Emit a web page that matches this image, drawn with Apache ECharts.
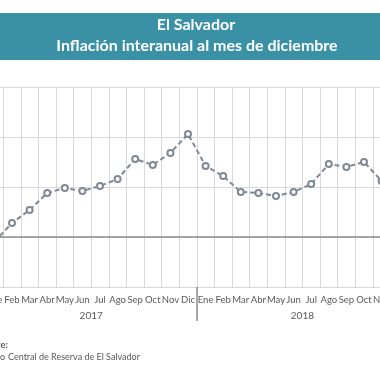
<!DOCTYPE html>
<html><head><meta charset="utf-8">
<script src="https://cdn.jsdelivr.net/npm/echarts@6/dist/echarts.min.js"></script>
<style>html,body{margin:0;padding:0;background:#fff;overflow:hidden}
#wrap{position:relative;width:380px;height:380px;overflow:hidden}
#c{position:absolute;left:-30px;top:0;width:460px;height:380px}</style>
</head><body><div id="wrap"><div id="c"></div></div>
<script>
var months = ['Ene','Feb','Mar','Abr','May','Jun','Jul','Ago','Sep','Oct','Nov','Dic',
              'Ene','Feb','Mar','Abr','May','Jun','Jul','Ago','Sep','Oct','Nov','Dic'];
var years = ['2017','2018'];
var inflation2017 = [-0.1, 0.28, 0.54, 0.88, 0.98, 0.92, 1.02, 1.16, 1.56, 1.44, 1.68, 2.06];
var inflation2018 = [1.42, 1.22, 0.9, 0.88, 0.82, 0.9, 1.06, 1.46, 1.4, 1.5, 1.12, null];
var yTicks = {min: -1, max: 3, interval: 1};
var values = inflation2017.concat(inflation2018);

var OFF = 30; // chart canvas is shifted 30px to the left of the page
var chart = echarts.init(document.getElementById('c'), null, {renderer: 'canvas'});
var font = 'Lato, "Open Sans", sans-serif';
chart.setOption({
  animation: false,
  grid: {left: OFF - 14.4, width: 422.4, top: 87, height: 200, containLabel: false},
  xAxis: [{
    type: 'category', data: months, boundaryGap: true, position: 'bottom',
    axisLine: {show: false}, axisTick: {show: false},
    axisLabel: {interval: 0, color: '#595959', fontSize: 9.5, fontFamily: font, margin: 8},
    splitLine: {show: true, interval: 0, lineStyle: {color: '#d9d9d9', width: 1}}
  }, {
    type: 'category', data: years, boundaryGap: true, position: 'bottom',
    axisLine: {show: false},
    axisTick: {show: true, length: 34, lineStyle: {color: '#8c8c8c', width: 1.5}},
    axisLabel: {interval: 0, color: '#595959', fontSize: 10, fontFamily: font, margin: 24},
    splitLine: {show: false}
  }],
  yAxis: {
    type: 'value', min: yTicks.min, max: yTicks.max, interval: yTicks.interval,
    axisLabel: {show: false}, axisLine: {show: false}, axisTick: {show: false},
    splitLine: {lineStyle: {color: '#d9d9d9', width: 1}}
  },
  series: [{
    type: 'line', data: values, xAxisIndex: 0,
    symbol: 'emptyCircle', symbolSize: 6,
    lineStyle: {color: '#7f8996', width: 2, type: [5, 3]},
    itemStyle: {color: '#7f8996', borderWidth: 1.2},
    markLine: {
      silent: true, symbol: 'none', label: {show: false},
      lineStyle: {color: '#8c8c8c', width: 1.5, type: 'solid'},
      data: [{yAxis: 0}]
    }
  }],
  graphic: [
    {type: 'rect', x: 0, y: 13, shape: {width: 460, height: 47}, style: {fill: '#3a91a6'}},
    {type: 'text', x: OFF + 196, y: 25, style: {text: 'El Salvador', fill: '#fff', font: 'bold 16px ' + font, textAlign: 'center', textVerticalAlign: 'middle'}},
    {type: 'text', x: OFF + 197, y: 46, style: {text: 'Inflación interanual al mes de diciembre', fill: '#fff', font: 'bold 16px ' + font, textAlign: 'center', textVerticalAlign: 'middle'}},
    {type: 'text', x: OFF + 8, y: 345, style: {text: 'Fuente:', fill: '#595959', font: 'bold 9.5px ' + font, textAlign: 'right', textVerticalAlign: 'middle'}},
    {type: 'text', x: OFF + 5, y: 357, style: {text: 'Banco', fill: '#595959', font: '9px ' + font, textAlign: 'right', textVerticalAlign: 'middle'}},
    {type: 'text', x: OFF + 8, y: 357, style: {text: 'Central de Reserva de El Salvador', fill: '#595959', font: '9px ' + font, textAlign: 'left', textVerticalAlign: 'middle'}}
  ]
});
</script></body></html>
